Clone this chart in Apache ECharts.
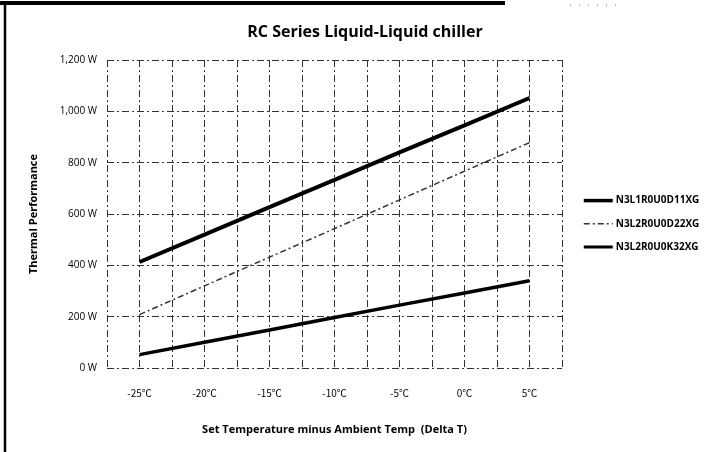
<!DOCTYPE html>
<html lang="en">
<head>
  <meta charset="UTF-8">
  <title>RC Series Liquid-Liquid chiller</title>
  <style>
    html, body { margin: 0; padding: 0; background: #fff; }
    .chart { width: 715px; height: 452px; }
  </style>
</head>
<body>
  <div class="chart"></div>

  <script src="https://cdn.jsdelivr.net/npm/echarts@6/dist/echarts.min.js"></script>
  <script>
    // delta T (set temp minus ambient), degrees C
    var temps = [-25, -20, -15, -10, -5, 0, 5];
    var yTicks = [0, 200, 400, 600, 800, 1000, 1200];
    var names = ['N3L1R0U0D11XG', 'N3L2R0U0D22XG', 'N3L2R0U0K32XG'];

    // thermal performance, W
    var d11 = [413, 520, 627, 733, 840, 945, 1052];
    var d22 = [208, 320, 432, 543, 655, 767, 878];
    var k32 = [52, 100, 148, 197, 245, 292, 340];

    var pairs = (vals) => temps.map((t, i) => [t, vals[i]]);

    var font = '"Open Sans", "Noto Sans", sans-serif';
    var cjk = '"Noto Sans CJK SC", "Noto Sans", sans-serif';
    var gridLine = { color: '#333', width: 1, type: [7, 3, 2, 3] };

    var chart = echarts.init(document.querySelector('.chart'));

    chart.setOption({
      animation: false,
      backgroundColor: '#fff',
      title: {
        text: 'RC Series Liquid-Liquid chiller',
        left: 360, top: 19, textAlign: 'center',
        textStyle: { fontFamily: font, fontWeight: 'bold', fontSize: 16, color: '#000' }
      },
      grid: { left: 107, right: 153, top: 60, bottom: 84 },
      legend: {
        orient: 'vertical',
        left: 577, top: 190,
        itemGap: 12, itemWidth: 29, itemHeight: 14,
        itemStyle: { opacity: 0 },
        textStyle: { fontFamily: font, fontSize: 10, fontWeight: 'bold', color: '#000', padding: [0, 0, 0, -2] },
        data: [
          { name: names[0], lineStyle: { width: 3.5 } },
          { name: names[1], lineStyle: { width: 1.5 } },
          { name: names[2], lineStyle: { width: 3 } }
        ]
      },
      xAxis: {
        type: 'value',
        min: -27.5, max: 7.5, interval: 2.5,
        name: 'Set Temperature minus Ambient Temp  (Delta T)',
        nameLocation: 'middle', nameGap: 56,
        nameTextStyle: { fontFamily: font, fontSize: 11, fontWeight: 'bold', color: '#000' },
        axisLine: { show: false },
        axisTick: { show: false },
        axisLabel: {
          margin: 20, fontFamily: cjk, fontSize: 10, color: '#000',
          formatter: (v) => (v % 5 === 0 ? v + '℃' : '')
        },
        splitLine: { show: true, lineStyle: gridLine }
      },
      yAxis: {
        type: 'value',
        min: yTicks[0], max: yTicks[yTicks.length - 1], interval: 200,
        name: 'Thermal Performance',
        nameLocation: 'middle', nameGap: 68,
        nameTextStyle: { fontFamily: font, fontSize: 11, fontWeight: 'bold', color: '#000' },
        axisLine: { show: false },
        axisTick: { show: false },
        axisLabel: {
          margin: 10, fontFamily: font, fontSize: 10, color: '#000',
          formatter: (v) => v.toLocaleString('en-US') + ' W'
        },
        splitLine: { show: true, lineStyle: gridLine }
      },
      series: [
        {
          name: names[0], type: 'line', data: pairs(d11),
          symbol: 'none', color: '#000',
          lineStyle: { color: '#000', width: 4 }
        },
        {
          name: names[1], type: 'line', data: pairs(d22),
          symbol: 'none', color: '#333',
          lineStyle: { color: '#333', width: 1.5, type: [6, 3, 2, 3] }
        },
        {
          name: names[2], type: 'line', data: pairs(k32),
          symbol: 'none', color: '#000',
          lineStyle: { color: '#000', width: 3.5 }
        }
      ],
      graphic: [
        // scanned frame edges
        { type: 'line', shape: { x1: 0, y1: 3, x2: 505, y2: 3 }, style: { stroke: '#000', lineWidth: 4 } },
        { type: 'line', shape: { x1: 5, y1: 3, x2: 5, y2: 452 }, style: { stroke: '#000', lineWidth: 2.5 } },
        { type: 'line', shape: { x1: 570, y1: 5, x2: 620, y2: 5 }, style: { stroke: '#666', lineWidth: 1, lineDash: [1, 8] } }
      ]
    });
  </script>
</body>
</html>
